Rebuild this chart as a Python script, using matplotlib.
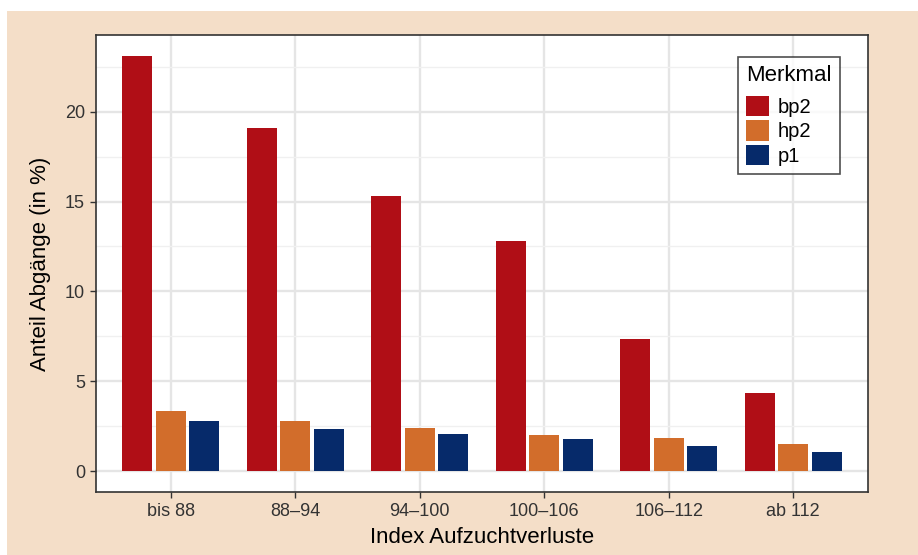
import matplotlib
matplotlib.use("Agg")
import matplotlib.pyplot as plt
import numpy as np
from matplotlib.patches import Rectangle

plt.rcParams['font.family'] = ['Liberation Sans', 'DejaVu Sans']

categories = ["bis 88", "88\u201394", "94\u2013100", "100\u2013106", "106\u2013112", "ab 112"]
series = ["bp2", "hp2", "p1"]
bp2 = [23.1, 19.1, 15.3, 12.8, 7.35, 4.35]
hp2 = [3.37, 2.81, 2.42, 2.03, 1.87, 1.54]
p1 = [2.81, 2.37, 2.09, 1.81, 1.42, 1.09]
colors = ["#B00E16", "#D26D2B", "#062A6A"]

fig = plt.figure(figsize=(9.18, 5.55), dpi=100)
# beige frame
fig.patches.append(Rectangle((7 / 918, 0), 1 - 7 / 918, 1 - 11 / 555,
                             transform=fig.transFigure, facecolor="#F4DEC8",
                             edgecolor="none", zorder=-10))
ax = fig.add_axes([96 / 918, 1 - 492 / 555, (868 - 96) / 918, (492 - 35) / 555])
ax.set_facecolor("white")

x = np.arange(len(categories))
step = 0.268
width = 0.241
for i, (name, vals) in enumerate(zip(series, [bp2, hp2, p1])):
    ax.bar(x + (i - 1) * step, vals, width=width, color=colors[i], label=name, zorder=3)

ax.set_xlim(-0.6, len(categories) - 0.4)
ax.set_ylim(-1.155, 24.26)
ax.set_xticks(x)
ax.set_xticklabels(categories)
ax.set_yticks([0, 5, 10, 15, 20])
ax.set_yticks([2.5, 7.5, 12.5, 17.5, 22.5], minor=True)
ax.grid(True, which="major", color="#E5E5E5", linewidth=1.7, zorder=0)
ax.grid(True, which="minor", axis="y", color="#F0F0F0", linewidth=1.0, zorder=0)
ax.tick_params(axis="both", which="major", length=4, width=1, color="#333333",
               labelsize=13, labelcolor="#333333", pad=4)
ax.tick_params(axis="y", which="minor", length=0)
for s in ax.spines.values():
    s.set_color("#333333")
    s.set_linewidth(1.2)

ax.set_xlabel("Index Aufzuchtverluste", fontsize=16, color="black", labelpad=5)
ax.set_ylabel("Anteil Abg\u00e4nge (in %)", fontsize=16, color="black", labelpad=10)

leg = ax.legend(title="Merkmal", loc="upper left", bbox_to_anchor=(0.8316, 0.952),
                borderaxespad=0, fontsize=14.5, title_fontsize=16, frameon=True,
                fancybox=False, handlelength=1.15, handleheight=1.2, handletextpad=0.42,
                labelspacing=0.17, borderpad=0.4, alignment="left")
leg._legend_box.sep = 7
leg.get_frame().set_edgecolor("#222222")
leg.get_frame().set_linewidth(1.2)

fig.savefig("out.png", dpi=100)
